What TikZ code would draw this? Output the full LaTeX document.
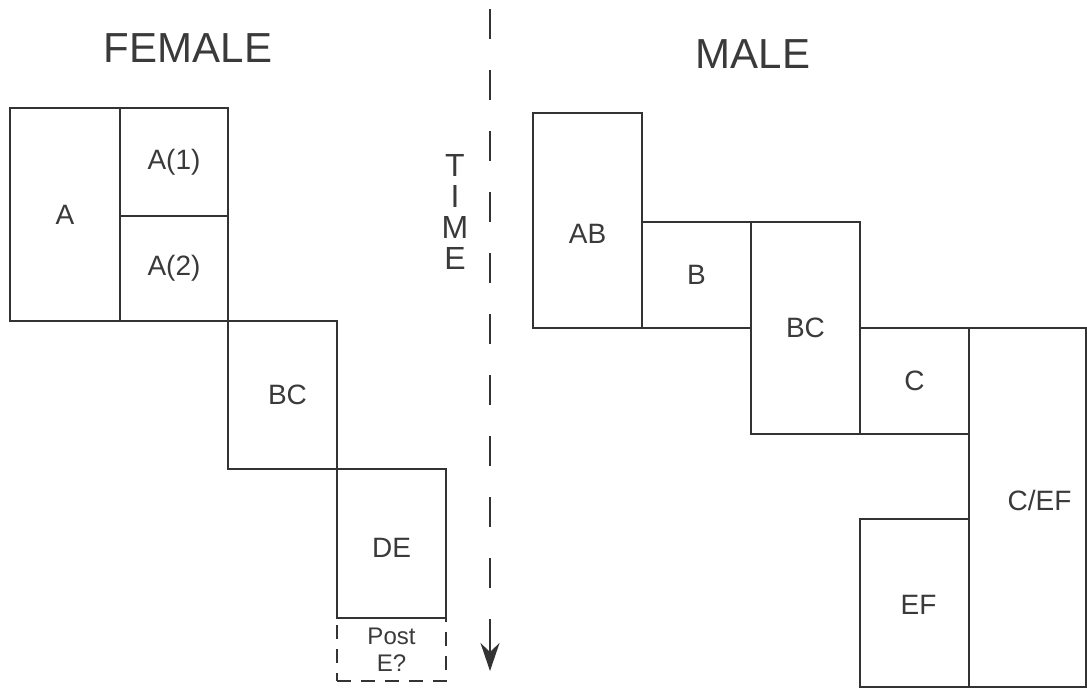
\documentclass[tikz,border=0pt]{standalone}
\usepackage{fontspec}
\setmainfont{Liberation Sans}
\usetikzlibrary{arrows.meta}
\definecolor{ink}{HTML}{333333}
\definecolor{txt}{HTML}{3A3A3A}
\begin{document}
\begin{tikzpicture}[x=1pt,y=-1pt,
  stage/.style={draw=ink, line width=2.6pt, rectangle, inner sep=0pt, outer sep=0pt,
    text=txt, font=\fontsize{28}{32}\selectfont},
  stagetext/.style={text=txt, font=\fontsize{28}{32}\selectfont, inner sep=0pt},
  future/.style={stage, dash pattern=on 14pt off 10pt, font=\fontsize{24}{27}\selectfont, align=center},
  heading/.style={text=txt, font=\fontsize{42}{48}\selectfont, inner sep=0pt},
  timeline/.style={draw=ink, line width=2.6pt, dash pattern=on 30pt off 31pt},
  timetip/.style={draw=ink, line width=2.6pt, solid,
    -{Stealth[length=28pt,width=19pt,inset=9pt]}}]
\useasboundingbox (0,0) rectangle (1087,688);

% headings
\node[heading] (female) at (188,48) {FEMALE};
\node[heading] (male) at (753,54) {MALE};

% female stages
\node[stage, minimum width=110pt, minimum height=213pt] (a) at (65,214.5) {A};
\node[stage, minimum width=108pt, minimum height=108pt] (a1) at (174,162) {A(1)};
\node[stage, minimum width=108pt, minimum height=105pt] (a2) at (174,268.5) {A(2)};
\node[stage, minimum width=109pt, minimum height=148pt] (bcf) at (282.5,395) {};
\node[stagetext] at ([xshift=5pt]bcf.center) {BC};
\node[stage, minimum width=109pt, minimum height=149pt] (de) at (391.5,543.5) {};
\node[stagetext] at ([yshift=-4pt]de.center) {DE};
\node[future, minimum width=109pt, minimum height=63pt] (post) at (391.5,649.5) {Post\\E?};

% time axis: dashed run, then a solid last dash ending in the tip
\coordinate (tstart) at (490,9);
\coordinate (tlast) at (490,622);
\coordinate (tend) at (490,671);
\draw[timeline] (tstart) -- (tlast);
\draw[timetip] (tlast) -- (tend);
\node[text=txt, font=\fontsize{32}{31}\selectfont, align=center, inner sep=0pt] (time) at (455,212) {T\\I\\M\\E};

% male stages
\node[stage, minimum width=109pt, minimum height=215pt] (ab) at (587.5,220.5) {};
\node[stagetext] at ([yshift=-13pt]ab.center) {AB};
\node[stage, minimum width=109pt, minimum height=106pt] (b) at (696.5,275) {B};
\node[stage, minimum width=109pt, minimum height=212pt] (bcm) at (805.5,328) {BC};
\node[stage, minimum width=109pt, minimum height=106pt] (c) at (914.5,381) {C};
\node[stage, minimum width=117pt, minimum height=359pt] (cef) at (1027.5,507.5) {};
\node[stagetext] at ([xshift=12pt,yshift=7pt]cef.center) {C/EF};
\node[stage, minimum width=109pt, minimum height=168pt] (ef) at (914.5,603) {};
\node[stagetext] at ([xshift=4pt,yshift=-2pt]ef.center) {EF};
\end{tikzpicture}
\end{document}
